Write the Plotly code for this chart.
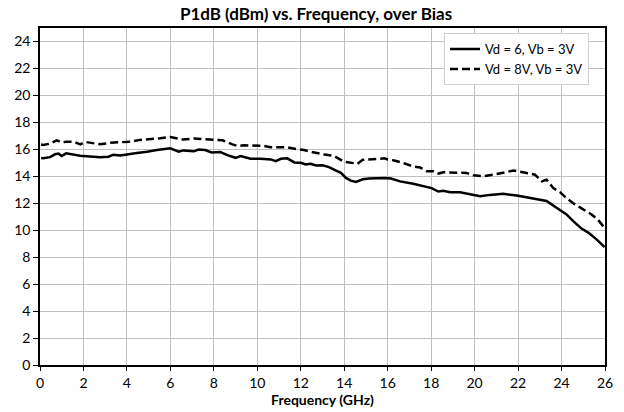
import plotly.graph_objects as go

freq_vd6 = [0.05, 0.15, 0.46, 0.69, 0.85, 1.0, 1.2, 1.54, 1.85, 2.3, 2.77, 3.15, 3.38, 3.69, 4.0, 4.46, 4.92, 5.38, 6.0,
            6.38, 6.6, 7.08, 7.3, 7.6, 7.9, 8.3, 8.62, 9.0, 9.23, 9.46, 9.69, 10.15, 10.62, 10.85, 11.08, 11.38,
            11.7, 12.0, 12.23, 12.46, 12.7, 13.0, 13.3, 13.6, 13.85, 14.08, 14.3, 14.54, 14.85, 15.15, 15.54,
            15.85, 16.15, 16.57, 17.18, 17.64, 18.02, 18.33, 18.56, 18.87, 19.33, 19.79, 20.25, 20.71, 21.32,
            21.94, 22.4, 22.7, 23.31, 23.77, 24.23, 24.54, 24.92, 25.23, 25.61, 25.98]
p1db_vd6 = [15.35, 15.33, 15.42, 15.63, 15.68, 15.5, 15.7, 15.6, 15.52, 15.47, 15.42, 15.45, 15.6, 15.55, 15.6, 15.72,
            15.82, 15.95, 16.07, 15.82, 15.92, 15.85, 15.98, 15.95, 15.77, 15.8, 15.57, 15.37, 15.5, 15.42, 15.3,
            15.3, 15.25, 15.12, 15.3, 15.33, 15.03, 15.0, 14.88, 14.93, 14.8, 14.82, 14.68, 14.43, 14.25, 13.88,
            13.68, 13.58, 13.78, 13.83, 13.85, 13.88, 13.83, 13.62, 13.45, 13.25, 13.12, 12.87, 12.92, 12.82,
            12.82, 12.67, 12.52, 12.62, 12.7, 12.57, 12.42, 12.35, 12.17, 11.67, 11.17, 10.67, 10.12, 9.82,
            9.32, 8.75]

freq_vd8 = [0.05, 0.15, 0.46, 0.77, 1.0, 1.23, 1.54, 1.85, 2.08, 2.38, 2.77, 3.23, 3.69, 4.15, 4.6, 5.08, 5.54, 6.0,
            6.3, 6.6, 7.08, 7.54, 8.0, 8.4, 8.85, 9.08, 9.38, 9.85, 10.31, 10.62, 11.08, 11.38, 11.85, 12.15,
            12.46, 12.77, 13.08, 13.54, 14.0, 14.46, 14.6, 14.85, 15.38, 15.85, 16.0, 16.3, 16.7, 17.18, 17.49,
            17.8, 18.1, 18.33, 18.56, 19.17, 19.63, 19.94, 20.4, 20.86, 21.32, 21.78, 22.01, 22.4, 22.78, 23.09,
            23.31, 23.62, 23.93, 24.23, 24.54, 24.92, 25.38, 25.69, 25.98]
p1db_vd8 = [16.35, 16.32, 16.42, 16.67, 16.5, 16.57, 16.57, 16.37, 16.55, 16.48, 16.37, 16.48, 16.53, 16.57, 16.7,
            16.75, 16.82, 16.92, 16.82, 16.72, 16.8, 16.77, 16.72, 16.67, 16.37, 16.25, 16.3, 16.3, 16.25, 16.15,
            16.15, 16.15, 16.0, 15.95, 15.82, 15.7, 15.62, 15.5, 15.07, 14.97, 14.92, 15.22, 15.25, 15.33, 15.25,
            15.17, 15.0, 14.72, 14.65, 14.37, 14.37, 14.2, 14.3, 14.25, 14.25, 14.07, 14.0, 14.12, 14.25, 14.42,
            14.37, 14.25, 14.12, 13.62, 13.75, 13.13, 12.82, 12.37, 12.0, 11.62, 11.17, 10.75, 10.17]

x_ticks = list(range(0, 27, 2))
y_ticks = list(range(0, 25, 2))

FONT = "Lato"

fig = go.Figure()
fig.add_trace(go.Scatter(x=freq_vd6, y=p1db_vd6, mode="lines", name="Vd = 6, Vb = 3V",
                         line=dict(color="black", width=2.5)))
fig.add_trace(go.Scatter(x=freq_vd8, y=p1db_vd8, mode="lines", name="Vd = 8V, Vb = 3V",
                         line=dict(color="black", width=2.5, dash="8px,4px")))

fig.update_layout(
    width=616, height=404,
    margin=dict(l=32, r=19, t=20, b=47, autoexpand=False),
    paper_bgcolor="white", plot_bgcolor="white",
    font=dict(family=FONT, size=14, color="black"),
    title=dict(text="<b>P1dB (dBm) vs. Frequency, over Bias</b>", x=0.5, xanchor="center",
               y=1.0, yanchor="top", pad=dict(t=0, b=0), font=dict(family=FONT, size=17, color="black")),
    xaxis=dict(range=[0, 26], tickvals=x_ticks, showgrid=True, gridcolor="#c0c0c0", gridwidth=1,
               showline=True, linecolor="black", linewidth=1.5, mirror=True,
               ticks="outside", ticklen=4, tickcolor="black", zeroline=False,
               title=dict(text="<b>Frequency (GHz)</b>", font=dict(family=FONT, size=14), standoff=4)),
    yaxis=dict(range=[0, 25], tickvals=y_ticks, showgrid=True, gridcolor="#c0c0c0", gridwidth=1,
               showline=True, linecolor="black", linewidth=1.5, mirror=True,
               ticks="outside", ticklen=5, tickcolor="black", zeroline=False),
    legend=dict(x=0.715, y=0.985, xanchor="left", yanchor="top", bgcolor="white",
                bordercolor="#d0d0d0", borderwidth=1, font=dict(family=FONT, size=13),
                tracegroupgap=0),
    showlegend=True,
)

fig.write_html("out.html")
